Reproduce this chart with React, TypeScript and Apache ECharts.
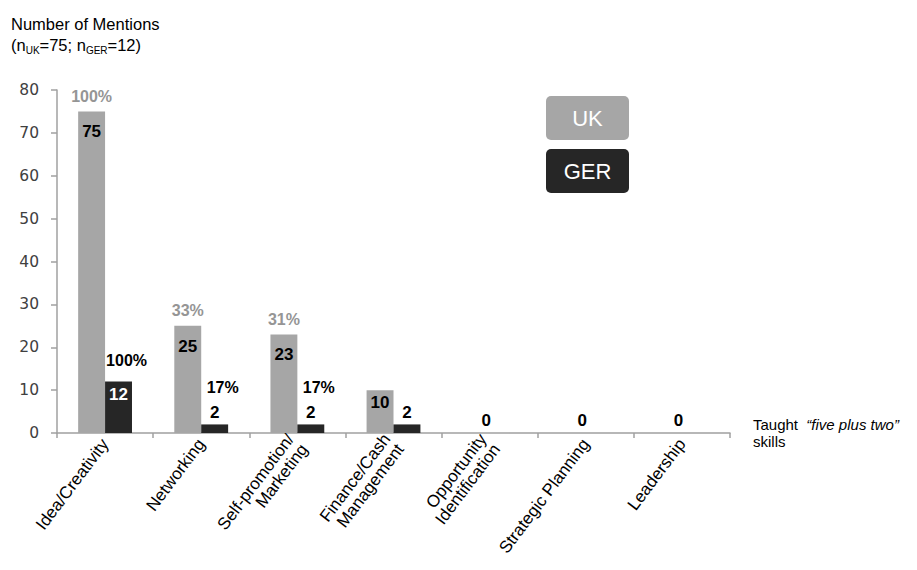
import React, { useEffect, useRef } from "react";
import * as echarts from "echarts";

// Skills taught ("five plus two") and how often each was mentioned
const categories = [
  "Idea/Creativity",
  "Networking",
  "Self-promotion/\nMarketing",
  "Finance/Cash\nManagement",
  "Opportunity\nIdentification",
  "Strategic Planning",
  "Leadership",
];
const ukMentions = [75, 25, 23, 10, 0, 0, 0];
const gerMentions = [12, 2, 2, 2, 0, 0, 0];
const ukShare = ["100%", "33%", "31%", null, null, null, null];
const gerShare = ["100%", "17%", "17%", null, null, null, null];
const yTicks = { min: 0, max: 80, interval: 10 };

const UK_COLOR = "#a6a6a6";
const GER_COLOR = "#262626";
const FONT = "'Liberation Sans', Arial, sans-serif";

export default function App() {
  const ref = useRef<HTMLDivElement | null>(null);

  useEffect(() => {
    if (!ref.current) return;
    const chart = echarts.init(ref.current, undefined, { renderer: "svg" });

    const valueLabel = { fontFamily: FONT, fontSize: 17, fontWeight: "bold" as const };

    const ukData = ukMentions.map((v) => ({
      value: v,
      label:
        v === 0
          ? { position: "top", distance: 4, offset: [10, 0], color: "#000" }
          : { position: "insideTop", distance: v > 15 ? 12 : 4, color: "#000" },
    }));

    const gerData = gerMentions.map((v) => ({
      value: v,
      label:
        v === 0
          ? { show: false }
          : v >= 5
          ? { position: "insideTop", distance: 4, color: "#fff" }
          : { position: "top", distance: 3, color: "#000" },
    }));

    // zero-height bars stacked on top of each series carry the share labels
    const ukShareData = ukShare.map((s) => (s == null ? "-" : 0));
    const gerShareData = gerShare.map((s, i) =>
      s == null
        ? "-"
        : {
            value: 0,
            label: { distance: gerMentions[i] >= 5 ? 13 : 29 },
          }
    );

    chart.setOption({
      animation: false,
      title: {
        left: 11,
        top: 13,
        padding: 0,
        text: "{a|Number of Mentions}\n{a|(n}{s|UK}{a|=75; n}{s|GER}{a|=12)}",
        textStyle: {
          fontWeight: "normal",
          rich: {
            a: {
              fontFamily: FONT,
              fontSize: 16.5,
              lineHeight: 21,
              fontWeight: "normal",
              color: "#000",
            },
            s: {
              fontFamily: FONT,
              fontSize: 10,
              lineHeight: 10,
              fontWeight: "normal",
              verticalAlign: "bottom",
              color: "#000",
            },
          },
        },
      },
      grid: { left: 57, right: 187, top: 90, bottom: 137, containLabel: false },
      xAxis: {
        type: "category",
        data: categories,
        name: "{n|Taught  }{i|“five plus two”}\n{n|skills}",
        nameLocation: "end",
        nameGap: 23,
        nameTextStyle: {
          align: "left",
          verticalAlign: "middle",
          rich: {
            n: { fontFamily: FONT, fontSize: 15, lineHeight: 17, color: "#000" },
            i: {
              fontFamily: FONT,
              fontSize: 15,
              lineHeight: 17,
              fontStyle: "italic",
              color: "#000",
            },
          },
        },
        axisLine: { show: true, lineStyle: { color: "#a0a0a0", width: 1.5 } },
        axisTick: { show: true, length: 5, lineStyle: { color: "#a0a0a0", width: 1.5 } },
        axisLabel: {
          interval: 0,
          rotate: 53,
          margin: 8,
          fontFamily: FONT,
          fontSize: 17,
          color: "#000",
          lineHeight: 17,
        },
        splitLine: { show: false },
      },
      yAxis: {
        type: "value",
        min: yTicks.min,
        max: yTicks.max,
        interval: yTicks.interval,
        axisLine: { show: true, lineStyle: { color: "#a0a0a0", width: 1.5 } },
        axisTick: { show: true, length: 6, lineStyle: { color: "#a0a0a0", width: 1.5 } },
        axisLabel: {
          margin: 18,
          fontFamily: "'DejaVu Sans', Verdana, sans-serif",
          fontSize: 15.5,
          color: "#404040",
        },
        splitLine: { show: false },
      },
      series: [
        {
          name: "UK",
          type: "bar",
          stack: "uk",
          stackStrategy: "all",
          data: ukData,
          barGap: "0%",
          barCategoryGap: "44%",
          itemStyle: { color: UK_COLOR },
          label: { show: true, ...valueLabel },
          silent: true,
        },
        {
          name: "UK share",
          type: "bar",
          stack: "uk",
          stackStrategy: "all",
          data: ukShareData,
          itemStyle: { color: "transparent" },
          label: {
            show: true,
            position: "top",
            distance: 7,
            fontFamily: FONT,
            fontSize: 16,
            fontWeight: "bold",
            color: "#959595",
            formatter: (p: any) => ukShare[p.dataIndex] ?? "",
          },
          silent: true,
        },
        {
          name: "GER",
          type: "bar",
          stack: "ger",
          stackStrategy: "all",
          data: gerData,
          itemStyle: { color: GER_COLOR },
          label: { show: true, ...valueLabel },
          silent: true,
        },
        {
          name: "GER share",
          type: "bar",
          stack: "ger",
          stackStrategy: "all",
          data: gerShareData,
          itemStyle: { color: "transparent" },
          label: {
            show: true,
            position: "top",
            offset: [8, 0],
            fontFamily: FONT,
            fontSize: 16,
            fontWeight: "bold",
            color: "#000",
            formatter: (p: any) => gerShare[p.dataIndex] ?? "",
          },
          silent: true,
        },
      ],
      graphic: [
        {
          type: "group",
          left: 546,
          top: 96,
          children: [
            {
              type: "rect",
              shape: { x: 0, y: 0, width: 83, height: 44, r: 5 },
              style: { fill: UK_COLOR },
            },
            {
              type: "text",
              x: 41.5,
              y: 22,
              style: {
                text: "UK",
                fill: "#fff",
                font: `22px ${FONT}`,
                textAlign: "center",
                textVerticalAlign: "middle",
              },
            },
            {
              type: "rect",
              shape: { x: 0, y: 53, width: 83, height: 44, r: 5 },
              style: { fill: GER_COLOR },
            },
            {
              type: "text",
              x: 41.5,
              y: 75,
              style: {
                text: "GER",
                fill: "#fff",
                font: `22px ${FONT}`,
                textAlign: "center",
                textVerticalAlign: "middle",
              },
            },
          ],
        },
      ],
    });

    return () => chart.dispose();
  }, []);

  return (
    <div
      ref={ref}
      style={{ position: "fixed", left: 0, top: 0, width: 917, height: 570, background: "#fff" }}
    />
  );
}
